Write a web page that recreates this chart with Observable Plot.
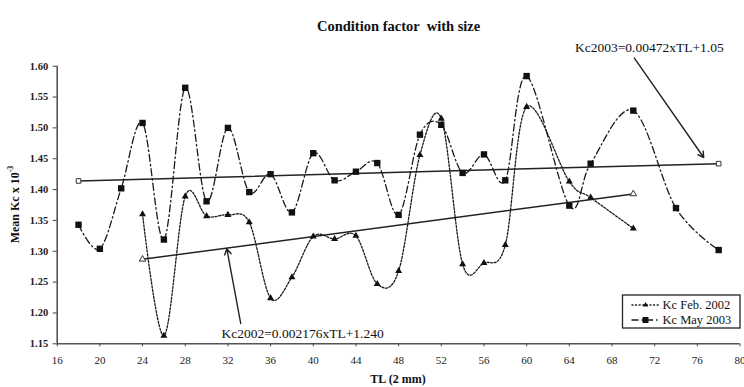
<!DOCTYPE html>
<html>
<head>
<meta charset="utf-8">
<script src="https://cdn.jsdelivr.net/npm/d3@7"></script>
<script src="https://cdn.jsdelivr.net/npm/@observablehq/plot@0.6"></script>
<style>
  html, body { margin: 0; padding: 0; background: #fff; }
  svg { display: block; }
  svg text { font-family: 'Liberation Serif', 'Times New Roman', serif; }
</style>
</head>
<body>
<div id="chart"></div>
<script>
// ---- data ----
const tl2002 = [24, 26, 28, 30, 32, 34, 36, 38, 40, 42, 44, 46, 48, 50, 52, 54, 56, 58, 60, 64, 66, 70];
const kc2002 = [1.360, 1.163, 1.389, 1.357, 1.359, 1.347, 1.224, 1.258, 1.324, 1.320, 1.325, 1.247, 1.268, 1.456, 1.515, 1.279, 1.281, 1.310, 1.534, 1.413, 1.387, 1.337];

const tl2003 = [18, 20, 22, 24, 26, 28, 30, 32, 34, 36, 38, 40, 42, 44, 46, 48, 50, 52, 54, 56, 58, 60, 64, 66, 70, 74, 78];
const kc2003 = [1.343, 1.304, 1.402, 1.508, 1.319, 1.565, 1.381, 1.500, 1.396, 1.425, 1.363, 1.459, 1.415, 1.429, 1.443, 1.359, 1.489, 1.505, 1.427, 1.457, 1.415, 1.584, 1.374, 1.442, 1.528, 1.370, 1.302];

// fitted trend lines (end points as drawn)
const trendTl2002 = [24, 70];
const trendKc2002 = [1.287, 1.393];
const trendTl2003 = [18, 78];
const trendKc2003 = [1.414, 1.442];

const xTicks = [16, 20, 24, 28, 32, 36, 40, 44, 48, 52, 56, 60, 64, 68, 72, 76, 80];
const yTicks = [1.15, 1.20, 1.25, 1.30, 1.35, 1.40, 1.45, 1.50, 1.55, 1.60];

const seriesNames = ["Kc Feb. 2002", "Kc May 2003"];
const titleText = "Condition factor  with size";
const xLabel = "TL (2 mm)";

// annotations (in data coordinates)
const eqLabels = [
  {text: "Kc2003=0.00472xTL+1.05", tl: 71.5, kc: 1.630},
  {text: "Kc2002=0.002176xTL+1.240", tl: 39.0, kc: 1.167}
];
const eqArrows = [
  {x1: 70.1, y1: 1.613, x2: 76.6, y2: 1.452},
  {x1: 33.2, y1: 1.183, x2: 31.9, y2: 1.304}
];

// ---- build tables ----
const d2002 = tl2002.map((t, i) => ({tl: t, kc: kc2002[i]}));
const d2003 = tl2003.map((t, i) => ({tl: t, kc: kc2003[i]}));
const t2002 = trendTl2002.map((t, i) => ({tl: t, kc: trendKc2002[i]}));
const t2003 = trendTl2003.map((t, i) => ({tl: t, kc: trendKc2003[i]}));

const FONT = "'Liberation Serif', 'Times New Roman', serif";
const DASH2002 = "2,1.6";
const DASH2003 = "7,3,1.5,3";

const chart = Plot.plot({
  width: 744,
  height: 387,
  marginLeft: 56.7,
  marginRight: 4.5,
  marginTop: 65.7,
  marginBottom: 43.7,
  style: {fontFamily: FONT, background: "#fff"},
  x: {domain: [16, 80]},
  y: {domain: [1.15, 1.60]},
  marks: [
    // axes lines
    Plot.ruleX([16], {stroke: "#555", strokeWidth: 1.6}),
    Plot.ruleY([1.15], {stroke: "#555", strokeWidth: 1.6}),
    Plot.axisX({ticks: xTicks, tickSize: 3, tickPadding: 9, fontSize: 11, fontFamily: FONT, label: null, stroke: "#444", fill: "#222"}),
    Plot.axisY({ticks: yTicks, tickSize: 4, tickPadding: 5, fontSize: 10.5, fontWeight: "bold", fontFamily: FONT,
                tickFormat: d3.format(".2f"), label: null, stroke: "#444", fill: "#222"}),
    // trend lines
    Plot.line(t2003, {x: "tl", y: "kc", stroke: "#222", strokeWidth: 1.5}),
    Plot.line(t2002, {x: "tl", y: "kc", stroke: "#222", strokeWidth: 1.5}),
    // data curves
    Plot.line(d2003, {x: "tl", y: "kc", curve: "cardinal", stroke: "#1a1a1a", strokeWidth: 1.3, strokeDasharray: DASH2003}),
    Plot.line(d2002, {x: "tl", y: "kc", curve: "cardinal", stroke: "#1a1a1a", strokeWidth: 1.3, strokeDasharray: DASH2002}),
    // markers
    Plot.dot(d2003, {x: "tl", y: "kc", symbol: "square", r: 3.6, fill: "#111", stroke: "none"}),
    Plot.dot(d2002, {x: "tl", y: "kc", symbol: "triangle", r: 2.6, fill: "#111", stroke: "none"}),
    Plot.dot(t2003, {x: "tl", y: "kc", symbol: "square", r: 2.6, fill: "#fff", stroke: "#333", strokeWidth: 1}),
    Plot.dot(t2002, {x: "tl", y: "kc", symbol: "triangle", r: 2.4, fill: "#fff", stroke: "#333", strokeWidth: 1}),
    // equation annotations
    Plot.arrow(eqArrows, {x1: "x1", y1: "y1", x2: "x2", y2: "y2", stroke: "#222", strokeWidth: 1.4, headLength: 7}),
    Plot.text(eqLabels, {x: "tl", y: "kc", text: "text", fontSize: 13.5, fill: "#111", fontFamily: FONT}),
    // title
    Plot.text([titleText], {frameAnchor: "top", dy: -45, fontSize: 14.5, fontWeight: "bold", fill: "#111", fontFamily: FONT})
  ]
});

document.getElementById("chart").appendChild(chart);

const svg = d3.select(chart);

// y-axis label with superscript
const yl = svg.append("text")
  .attr("transform", "translate(16,204.5) rotate(-90)")
  .attr("text-anchor", "middle")
  .attr("dominant-baseline", "middle")
  .attr("font-family", FONT)
  .attr("font-weight", "bold")
  .attr("font-size", 12)
  .attr("fill", "#111");
yl.append("tspan").text("Mean Kc x 10");
yl.append("tspan").attr("font-size", 8).attr("dy", -5).text("-3");

// x-axis label
svg.append("text")
  .attr("x", 398)
  .attr("y", 383)
  .attr("text-anchor", "middle")
  .attr("font-family", FONT)
  .attr("font-weight", "bold")
  .attr("font-size", 12)
  .attr("fill", "#111")
  .text(xLabel);

// legend box
const lg = svg.append("g").attr("transform", "translate(622.5,295)");
lg.append("rect").attr("width", 117.5).attr("height", 33)
  .attr("fill", "#fff").attr("stroke", "#222").attr("stroke-width", 1.3);
const rows = [
  {name: seriesNames[0], dash: DASH2002, sym: d3.symbolTriangle2, size: 20},
  {name: seriesNames[1], dash: DASH2003, sym: d3.symbolSquare, size: 36}
];
rows.forEach((r, i) => {
  const y = 10 + i * 15;
  lg.append("line").attr("x1", 9).attr("x2", 37).attr("y1", y).attr("y2", y)
    .attr("stroke", "#1a1a1a").attr("stroke-width", 1.3).attr("stroke-dasharray", r.dash);
  lg.append("path").attr("d", d3.symbol(r.sym, r.size)()).attr("transform", `translate(23,${y})`).attr("fill", "#111");
  lg.append("text").attr("x", 40).attr("y", y).attr("dy", "0.35em")
    .attr("text-anchor", "start")
    .attr("font-family", FONT).attr("font-size", 12.5).attr("fill", "#111").text(r.name);
});
</script>
</body>
</html>
